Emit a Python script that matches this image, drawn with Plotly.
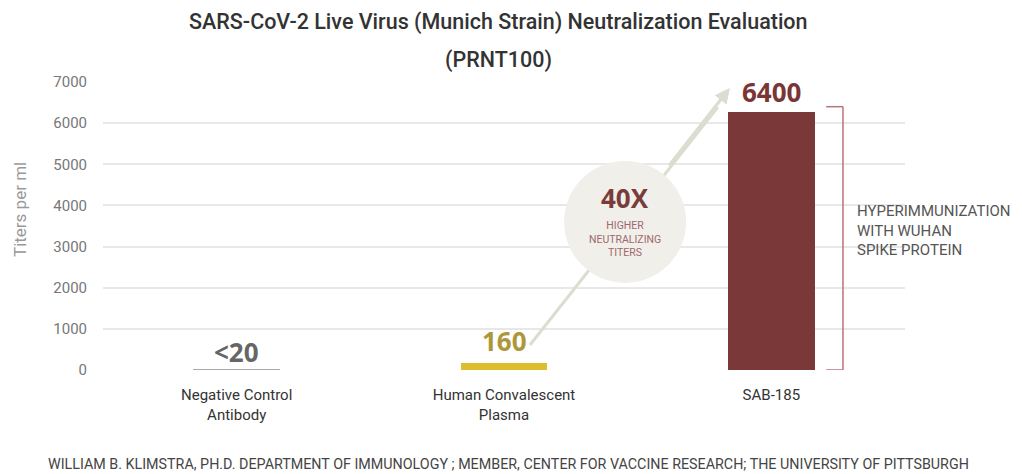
import plotly.graph_objects as go

# ---- data ----
categories = ["Negative Control<br>Antibody", "Human Convalescent<br>Plasma", "SAB-185"]
bar_values = [20, 160, 6270]          # drawn bar heights
value_labels = ["<20", "160", "6400"]
label_y = [440, 700, 6760]
bar_colors = ["#a9a9a9", "#dcbd2a", "#7a3838"]
label_colors = ["#666666", "#ad9838", "#7a3535"]
label_sizes = [26, 26, 26]
y_ticks = [0, 1000, 2000, 3000, 4000, 5000, 6000, 7000]

FONT = "Roboto"
PW, PH = 802, 288      # plot area in px
X0, Y0 = 103, 370      # page px of plot left / zero line


def px(xp):
    return (xp - X0) / PW


def py(yp):
    return (Y0 - yp) / PH


fig = go.Figure()
fig.add_trace(go.Bar(
    x=[0, 1, 2], y=bar_values, width=0.325,
    marker=dict(color=bar_colors, line=dict(width=0)),
    hoverinfo="skip", showlegend=False,
))

shapes = []
tail = (1.097, 608)
head = (1.845, 6855)
shapes.append(dict(type="line", xref="x", yref="y", x0=tail[0], y0=tail[1],
                   x1=1.80, y1=6390, line=dict(color="#dcdcd0", width=3), layer="above"))
shapes.append(dict(type="circle", xref="x", yref="y", xsizemode="pixel", ysizemode="pixel",
                   xanchor=1.453, yanchor=3600, x0=-61, x1=61, y0=-61, y1=61,
                   fillcolor="#f0efea", line=dict(width=0), layer="above"))
br_x = 2.268
br_l = 2.205
br_col = "#b9737a"
shapes += [
    dict(type="line", xref="x", yref="y", x0=br_x, x1=br_x, y0=0, y1=6400,
         line=dict(color=br_col, width=1.5)),
    dict(type="line", xref="x", yref="y", x0=br_l, x1=br_x, y0=6400, y1=6400,
         line=dict(color=br_col, width=1.5)),
    dict(type="line", xref="x", yref="y", x0=br_l, x1=br_x, y0=0, y1=0,
         line=dict(color=br_col, width=1.5)),
]

annotations = []
annotations.append(dict(x=head[0], y=head[1], ax=1.613, ay=4934, xref="x", yref="y",
                        axref="x", ayref="y", text="", showarrow=True, arrowhead=2,
                        arrowsize=1, arrowwidth=3, arrowcolor="#dcdcd0"))
for i, (t, yy, c, s) in enumerate(zip(value_labels, label_y, label_colors, label_sizes)):
    annotations.append(dict(x=i, y=yy, xref="x", yref="y", text=f"<b>{t}</b>", showarrow=False,
                            font=dict(family="Open Sans", size=s, color=c),
                            bgcolor="white" if i == 2 else None, borderpad=0))
annotations.append(dict(x=1.453, y=4180, xref="x", yref="y", text="<b>40X</b>", showarrow=False,
                        font=dict(family="Open Sans", size=26, color="#7a3b3b")))
annotations.append(dict(x=1.453, y=3180, xref="x", yref="y",
                        text="HIGHER<br>NEUTRALIZING<br>TITERS", showarrow=False,
                        font=dict(family="Roboto", size=10.5, color="#a0686a")))
annotations.append(dict(x=px(855), y=py(230), xref="paper", yref="paper",
                        xanchor="left", yanchor="middle", align="left",
                        text="HYPERIMMUNIZATION<br>WITH WUHAN<br>SPIKE PROTEIN", showarrow=False,
                        font=dict(family=FONT, size=15, color="#555555")))
# y-axis title
annotations.append(dict(x=px(20), y=py(210), xref="paper", yref="paper", textangle=-90,
                        text="Titers per ml", showarrow=False, xanchor="center", yanchor="middle",
                        font=dict(family=FONT, size=17, color="#999999")))
# titles
annotations.append(dict(x=px(498), xref="paper", y=py(22), yref="paper",
                        text="SARS-CoV-2 Live Virus (Munich Strain) Neutralization Evaluation",
                        showarrow=False, xanchor="center", yanchor="middle",
                        font=dict(family=FONT, size=21.5, color="#333333", weight=500)))
annotations.append(dict(x=px(498), xref="paper", y=py(60), yref="paper",
                        text="(PRNT100)", showarrow=False, xanchor="center", yanchor="middle",
                        font=dict(family=FONT, size=21.5, color="#333333", weight=500)))
# footer
annotations.append(dict(x=px(508), xref="paper", y=py(464), yref="paper",
                        text="WILLIAM B. KLIMSTRA, PH.D. DEPARTMENT OF IMMUNOLOGY ; MEMBER, CENTER FOR VACCINE RESEARCH; THE UNIVERSITY OF PITTSBURGH",
                        showarrow=False, xanchor="center", yanchor="middle",
                        font=dict(family=FONT, size=14.3, color="#444444")))

# the page body has an 8px margin, so the figure is drawn 8px smaller and shifted
OFF = 8
W, H = 1022 - OFF, 474 - OFF
fig.update_layout(
    width=W, height=H,
    margin=dict(l=X0 - OFF, r=W - (X0 + PW - OFF), t=(Y0 - PH) - OFF, b=H - (Y0 - OFF)),
    paper_bgcolor="white", plot_bgcolor="white",
    shapes=shapes, annotations=annotations,
    bargap=0,
    font=dict(family=FONT),
    xaxis=dict(range=[-0.5, 2.5], tickmode="array", tickvals=[0, 1, 2], ticktext=categories,
               showgrid=False, zeroline=False, showline=False, ticks="", automargin=False,
               ticklabelstandoff=14,
               tickfont=dict(family=FONT, size=15, color="#333333")),
    yaxis=dict(range=[0, 7000], tickvals=y_ticks, showgrid=True, gridcolor="#e8e8e8",
               gridwidth=1.5, zeroline=False, showline=False, ticks="", ticklen=0,
               automargin=False, ticklabelstandoff=15,
               tickfont=dict(family=FONT, size=15, color="#777777")),
)

fig.write_html("out.html")
